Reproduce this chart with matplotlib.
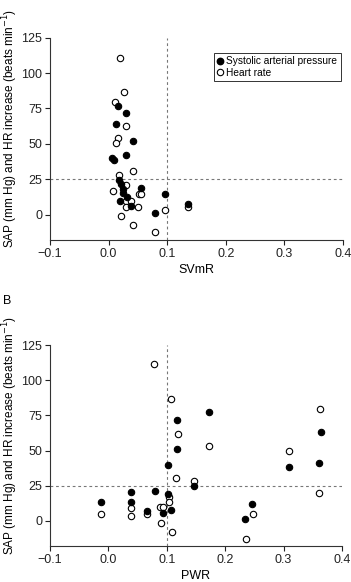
import matplotlib
matplotlib.use("Agg")
import matplotlib.pyplot as plt
from matplotlib.lines import Line2D

plt.rcParams['font.family'] = ['Liberation Sans', 'DejaVu Sans']

# Panel A: SVmR
svmr_sap_x = [0.0155, 0.030, 0.012, 0.042, 0.0063, 0.0092, 0.030, 0.018, 0.0206,
              0.024, 0.025, 0.031, 0.0195, 0.039, 0.0558, 0.097, 0.079, 0.136]
svmr_sap_y = [76.9, 71.5, 63.7, 52.1, 40.3, 38.2, 42.0, 24.3, 21.9,
              18.4, 15.3, 12.5, 9.6, 5.9, 19.1, 14.2, 1.4, 7.1]
svmr_hr_x = [0.0195, 0.026, 0.011, 0.030, 0.0155, 0.012, 0.0416, 0.017, 0.030,
             0.008, 0.052, 0.056, 0.030, 0.039, 0.0297, 0.051, 0.0206, 0.0416,
             0.080, 0.096, 0.136]
svmr_hr_y = [110.4, 86.8, 79.7, 62.3, 54.2, 50.7, 30.6, 28.3, 21.0,
             16.3, 14.2, 14.2, 9.6, 9.6, 5.4, 5.0, -0.7, -7.6,
             -12.3, 3.5, 5.4]

# Panel B: PWR
pwr_sap_x = [0.172, 0.118, 0.364, 0.118, 0.1026, 0.361, 0.309, 0.147, 0.080,
             0.0387, 0.1026, -0.0127, 0.0387, 0.0655, 0.094, 0.108, 0.2457, 0.234]
pwr_sap_y = [77.1, 71.4, 63.1, 51.4, 40.0, 41.4, 38.1, 25.0, 21.6,
             20.5, 19.0, 13.8, 13.8, 7.1, 5.9, 7.9, 12.1, 1.4]
pwr_hr_x = [0.0786, 0.108, 0.119, 0.172, 0.362, 0.309, 0.116, 0.147, 0.361,
            0.104, 0.103, -0.0127, 0.0387, 0.038, 0.0655, 0.089, 0.093, 0.090,
            0.109, 0.247, 0.236]
pwr_hr_y = [111.4, 86.4, 62.1, 53.6, 79.3, 49.8, 30.7, 28.6, 20.2,
            16.7, 13.8, 5.0, 9.5, 3.8, 5.0, 9.8, 10.0, -1.7,
            -8.1, 4.8, -12.9]

x_ticks = [-0.1, 0.0, 0.1, 0.2, 0.3, 0.4]
x_ticklabels = ['\u22120.1', '0.0', '0.1', '0.2', '0.3', '0.4']
y_ticks = [0, 25, 50, 75, 100, 125]
ylabel = 'SAP (mm Hg) and HR increase (beats min$^{-1}$)'

fig = plt.figure(figsize=(3.51, 5.82), dpi=100)
W, H = 351, 582

def make_ax(left, right, top, bottom):
    return fig.add_axes([left / W, 1 - bottom / H, (right - left) / W, (bottom - top) / H])

axA = make_ax(50, 343, 37.7, 240)
axB = make_ax(50, 342, 345, 546.3)

ms = 4.6
for ax, sx, sy, hx, hy, xl in [
        (axA, svmr_sap_x, svmr_sap_y, svmr_hr_x, svmr_hr_y, 'SVmR'),
        (axB, pwr_sap_x, pwr_sap_y, pwr_hr_x, pwr_hr_y, 'PWR')]:
    ax.set_xlim(-0.1, 0.4)
    ax.set_ylim(-18, 125)
    ax.axvline(0.1, color='#777777', lw=0.8, ls=(0, (2.5, 2.5)), zorder=1)
    ax.axhline(25, color='#777777', lw=0.8, ls=(0, (2.5, 2.5)), zorder=1)
    ax.plot(hx, hy, 'o', mfc='white', mec='black', mew=0.8, ms=ms, ls='none', zorder=3)
    ax.plot(sx, sy, 'o', mfc='black', mec='black', mew=0.8, ms=ms, ls='none', zorder=4)
    ax.spines['top'].set_visible(False)
    ax.spines['right'].set_visible(False)
    for s in ['left', 'bottom']:
        ax.spines[s].set_linewidth(0.8)
        ax.spines[s].set_color('#333333')
    ax.set_xticks(x_ticks)
    ax.set_xticklabels(x_ticklabels)
    ax.set_yticks(y_ticks)
    ax.tick_params(direction='out', length=3.5, width=0.8, labelsize=9, pad=2,
                   colors='#222222')
    ax.set_xlabel(xl, fontsize=9, labelpad=3)
    ax.set_ylabel(ylabel, fontsize=8.5, va='center')
    ax.yaxis.set_label_coords(-0.135, 0.55)

handles = [Line2D([], [], marker='o', ls='none', mfc='black', mec='black', ms=4.6),
           Line2D([], [], marker='o', ls='none', mfc='white', mec='black', mew=0.8, ms=4.6)]
leg = axA.legend(handles, ['Systolic arterial pressure', 'Heart rate'],
                 loc='upper right', bbox_to_anchor=(1.0, 0.935), fontsize=7.3,
                 frameon=True, fancybox=False, handlelength=0.6, handletextpad=0.3,
                 borderpad=0.35, labelspacing=0.15, borderaxespad=0.2)
leg.get_frame().set_edgecolor('black')
leg.get_frame().set_linewidth(0.7)

fig.text(7 / W, 1 - 301 / H, 'B', fontsize=9, ha='center', va='center')

fig.savefig('out.png', dpi=100)
